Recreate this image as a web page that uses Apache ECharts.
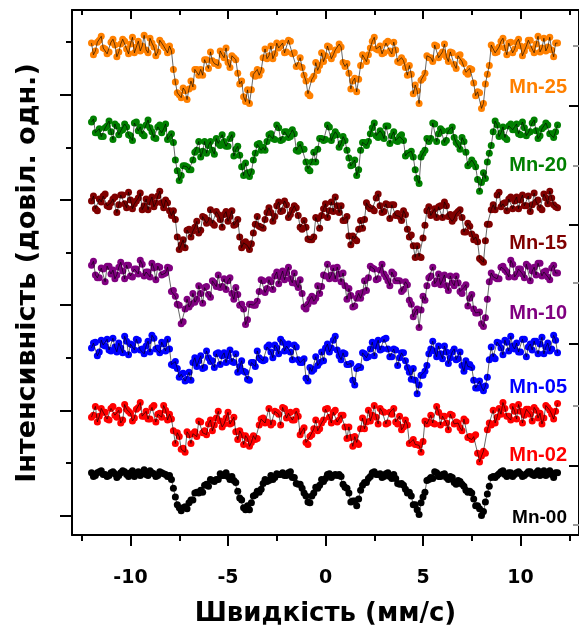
<!DOCTYPE html>
<html><head><meta charset="utf-8">
<script src="https://cdn.jsdelivr.net/npm/echarts@6/dist/echarts.min.js"></script>
<style>html,body{margin:0;padding:0;background:#fff}#c{width:579px;height:632px}</style>
</head><body><div id="c"></div>
<script>
const velocity = [-12,-11.8,-11.6,-11.4,-11.2,-11,-10.8,-10.6,-10.4,-10.2,-10,-9.8,-9.6,-9.4,-9.2,-9,-8.8,-8.6,-8.4,-8.2,-8,-7.8,-7.6,-7.4,-7.2,-7,-6.8,-6.6,-6.4,-6.2,-6,-5.8,-5.6,-5.4,-5.2,-5,-4.8,-4.6,-4.4,-4.2,-4,-3.8,-3.6,-3.4,-3.2,-3,-2.8,-2.6,-2.4,-2.2,-2,-1.8,-1.6,-1.4,-1.2,-1,-0.8,-0.6,-0.4,-0.2,0,0.2,0.4,0.6,0.8,1,1.2,1.4,1.6,1.8,2,2.2,2.4,2.6,2.8,3,3.2,3.4,3.6,3.8,4,4.2,4.4,4.6,4.8,5,5.2,5.4,5.6,5.8,6,6.2,6.4,6.6,6.8,7,7.2,7.4,7.6,7.8,8,8.2,8.4,8.6,8.8,9,9.2,9.4,9.6,9.8,10,10.2,10.4,10.6,10.8,11,11.2,11.4,11.6,11.8];
const velocityHalf = [-11.9,-11.7,-11.5,-11.3,-11.1,-10.9,-10.7,-10.5,-10.3,-10.1,-9.9,-9.7,-9.5,-9.3,-9.1,-8.9,-8.7,-8.5,-8.3,-8.1,-7.9,-7.7,-7.5,-7.3,-7.1,-6.9,-6.7,-6.5,-6.3,-6.1,-5.9,-5.7,-5.5,-5.3,-5.1,-4.9,-4.7,-4.5,-4.3,-4.1,-3.9,-3.7,-3.5,-3.3,-3.1,-2.9,-2.7,-2.5,-2.3,-2.1,-1.9,-1.7,-1.5,-1.3,-1.1,-0.9,-0.7,-0.5,-0.3,-0.1,0.1,0.3,0.5,0.7,0.9,1.1,1.3,1.5,1.7,1.9,2.1,2.3,2.5,2.7,2.9,3.1,3.3,3.5,3.7,3.9,4.1,4.3,4.5,4.7,4.9,5.1,5.3,5.5,5.7,5.9,6.1,6.3,6.5,6.7,6.9,7.1,7.3,7.5,7.7,7.9,8.1,8.3,8.5,8.7,8.9,9.1,9.3,9.5,9.7,9.9,10.1,10.3,10.5,10.7,10.9,11.1,11.3,11.5,11.7,11.9];

const mn25 = [505,497,508,500,494,506,503,496,509,499,504,495,507,502,498,510,501,496,505,500,
502,478,454,449,456,458,460,478,478,488,479,487,485,497,490,485,492,488,463,450,
457,457,471,472,490,489,502,494,500,505,496,507,495,482,480,466,451,471,477,495,
492,501,493,498,501,481,474,466,455,482,491,493,507,499,502,495,507,494,498,485,
487,472,473,462,443,469,492,490,503,490,496,491,496,483,492,486,475,479,464,455,
438,463,482,499,496,507,500,505,495,506,502,497,508,499,504,496,510,501,498,505];
const mn25Half = [493,506,512,499,496,509,491,504,507,494,511,501,497,513,495,505,492,508,502,495,
497,465,452,459,447,466,478,472,472,488,496,484,482,493,500,480,490,474,466,445,
443,473,478,477,499,492,489,505,502,495,508,494,481,490,472,453,468,485,482,486,
502,489,498,504,485,484,458,469,468,493,486,500,511,498,494,505,497,506,486,490,
480,482,453,456,467,474,490,486,502,493,504,486,495,479,493,484,473,478,451,454,
443,473,503,495,501,510,493,506,499,509,492,502,508,495,512,500,497,511,491,505];
const mn20 = [424,413,417,409,420,414,422,411,416,419,410,423,415,412,421,418,408,419,413,422,
409,403,374,369,379,375,385,395,388,404,400,395,407,400,404,399,411,396,390,369,
372,373,392,402,398,404,412,406,418,406,414,409,412,394,396,383,374,393,396,407,
406,419,410,411,402,405,387,380,369,395,403,404,418,410,415,407,420,410,405,409,
405,392,394,375,361,392,407,407,422,412,415,405,415,408,401,408,393,381,382,365,
362,366,392,414,421,413,408,420,416,422,411,418,413,423,415,410,419,421,412,414];
const mn20Half = [427,413,409,418,425,406,420,415,422,411,405,424,419,410,426,414,407,421,417,406,
412,385,364,379,378,375,393,404,394,392,404,391,402,411,399,407,389,399,378,382,
368,385,401,395,395,411,407,421,405,414,408,416,395,401,396,376,383,383,407,405,
421,405,414,398,409,395,379,385,375,403,400,412,423,408,412,420,402,414,404,411,
389,392,388,366,388,395,404,423,404,417,403,415,419,403,396,404,379,385,378,353,
372,383,400,425,409,419,406,422,416,412,424,410,414,426,407,417,423,412,408,421];
const mn15 = [343,335,345,348,338,341,347,339,349,336,344,340,346,334,345,342,337,348,341,344,
333,333,306,298,295,314,312,322,313,326,323,320,332,324,329,322,333,319,306,300,
297,299,319,317,315,331,331,327,342,333,339,329,338,328,314,316,303,306,325,328,
340,333,332,338,338,323,307,307,302,323,324,337,335,346,338,332,339,339,328,327,
333,314,308,285,286,305,333,328,335,337,326,338,329,325,332,326,311,317,303,301,
282,302,319,339,349,337,341,345,335,347,344,338,348,339,342,336,350,340,346,337];
const mn15Half = [348,333,342,350,337,345,331,349,340,352,335,343,351,338,334,347,341,353,336,341,
328,324,293,303,313,306,316,310,327,320,334,318,329,316,332,327,318,324,295,301,
293,310,327,316,324,336,322,338,332,343,326,334,336,316,323,304,303,326,315,335,
326,342,347,331,323,327,298,304,314,315,341,335,333,350,331,340,325,339,330,323,
329,306,297,297,285,318,337,330,326,338,342,327,322,330,334,311,320,309,306,284,
280,319,334,334,352,340,333,347,343,335,349,338,332,351,344,334,346,353,339,336];
const mn10 = [277,267,264,273,276,268,263,275,271,277,266,273,268,278,270,265,274,276,267,269,
274,251,237,217,232,234,248,242,248,254,247,261,255,254,263,261,248,254,236,232,
221,237,236,250,261,253,260,266,258,271,269,263,269,254,248,232,242,240,256,255,
266,263,274,275,260,256,253,234,243,243,261,264,274,262,272,268,261,270,261,261,
252,257,237,229,213,245,256,266,258,268,262,256,266,256,259,248,257,243,232,228,
217,223,260,265,263,275,272,265,278,268,273,264,276,271,267,279,270,265,274,269];
const mn10Half = [281,264,274,260,276,272,267,280,263,277,265,273,282,266,270,279,262,275,268,275,
250,245,236,219,242,237,239,256,238,255,244,259,267,255,252,264,242,247,237,216,
237,236,240,262,249,262,252,270,265,262,275,259,258,262,234,237,245,243,248,267,
278,267,263,268,269,242,246,235,248,249,251,276,273,263,278,265,256,268,261,250,
260,241,224,232,231,241,264,275,261,257,267,251,259,266,250,254,235,247,228,229,
214,242,269,265,263,276,270,282,265,273,268,278,261,275,279,266,271,262,277,269];
const mn05 = [192,198,188,195,201,189,193,197,187,199,196,190,200,191,194,188,202,192,198,189,
191,174,171,165,158,167,177,173,184,172,182,179,186,175,187,184,178,186,173,168,
160,177,173,182,179,193,188,195,186,198,194,188,195,180,177,161,172,170,174,188,
192,188,200,190,180,186,175,159,171,172,186,183,198,194,190,201,191,183,190,182,
187,172,160,159,154,164,174,191,189,194,181,188,182,191,181,174,179,175,159,151,
152,153,180,183,198,192,200,189,194,197,188,201,193,190,199,196,186,197,191,200];
const mn05Half = [197,184,200,194,190,202,188,192,204,185,195,201,190,186,199,205,191,187,196,201,
175,178,162,166,160,159,182,179,171,189,178,172,187,184,177,190,177,167,179,167,
159,177,189,180,180,195,182,192,201,189,196,180,193,177,181,158,168,183,177,179,
196,192,204,184,187,175,176,154,173,187,182,191,184,200,191,202,183,191,174,187,
179,167,171,145,164,168,186,199,183,186,194,176,188,180,188,168,173,172,151,158,
148,162,193,181,197,185,198,204,191,188,201,183,196,199,186,203,193,189,205,187];
const mn02 = [121,132,122,126,119,130,123,128,118,129,125,120,131,122,127,119,133,124,121,128,
124,107,105,88,85,103,104,101,116,107,114,107,120,117,114,126,115,106,107,93,
99,95,98,113,120,116,113,127,124,131,120,126,118,122,107,95,101,109,107,115,
129,121,126,116,123,111,111,91,95,109,109,128,123,121,130,126,115,124,116,122,
111,113,95,93,92,96,114,123,114,126,122,115,124,114,115,107,117,101,101,84,
81,84,115,128,121,124,130,122,132,119,127,123,129,117,128,125,120,131,124,127];
const mn02Half = [123,116,130,126,118,132,121,115,134,127,117,129,136,122,119,131,116,125,133,118,
119,94,101,89,106,94,106,117,105,103,118,113,127,111,120,114,121,98,103,102,
91,102,99,119,115,130,115,126,113,130,125,118,127,103,110,93,103,118,109,118,
130,115,128,118,123,99,100,101,93,120,116,117,133,114,127,114,126,130,114,108,
118,94,98,93,85,117,116,115,132,113,122,108,123,116,110,119,100,98,103,75,
86,108,113,115,130,136,122,118,127,134,115,129,124,131,120,114,133,128,119,135];
const mn00 = [64,61,65,62,60,64,63,61,66,62,64,60,65,63,62,66,63,61,64,62,
61,48,31,25,29,33,36,44,46,51,50,56,57,63,61,60,60,54,38,28,
30,33,41,44,53,55,61,59,62,64,61,65,59,52,48,40,33,43,48,57,
58,63,61,61,60,49,43,35,30,46,54,58,64,62,63,60,64,58,58,52,
51,43,40,31,21,39,56,59,65,60,62,59,60,54,56,52,46,45,37,30,
20,34,50,60,61,65,62,64,60,64,63,61,65,62,64,61,66,63,62,64];
const mn00Half = [60,64,66,62,61,65,59,64,65,60,66,63,61,67,61,64,60,65,63,60,
57,39,28,28,27,36,43,43,44,52,57,55,57,61,64,57,56,45,36,26,
26,40,45,47,57,56,57,63,62,61,64,59,53,52,43,34,40,49,51,55,
62,59,62,62,52,48,34,35,37,51,54,60,65,62,59,63,60,62,53,53,
47,44,31,26,33,44,57,58,64,60,63,57,59,52,55,50,44,43,30,27,
24,42,59,59,63,66,60,64,62,65,60,63,65,61,66,62,61,66,59,64];

const sampleNames = ['Mn-25','Mn-20','Mn-15','Mn-10','Mn-05','Mn-02','Mn-00'];
const sampleValues = [mn25, mn20, mn15, mn10, mn05, mn02, mn00];
const sampleValuesHalf = [mn25Half, mn20Half, mn15Half, mn10Half, mn05Half, mn02Half, mn00Half];
const xMajorTicks = [-10,-5,0,5,10];
const xMinorTicks = [-12.5,-7.5,-2.5,2.5,7.5,12.5];
const yMajorTicks = [20,128,236,344,452];
const yMinorTicks = [74,182,290,398,506];
const yRightMajorTicks = [71,196,319,441];
const yRightMinorTicks = [11,133,259,379,502];
const xTitle = 'Швидкість (мм/с)';
const yTitle = 'Інтенсивність (довіл. одн.)';

const colors = ['#FF8000','#008000','#800000','#800080','#0000FF','#FF0000','#000000'];
const labelY = [87,165,243,313,387,455,518];
const FONT = '"Liberation Sans", Arial, sans-serif';
const WIDE = '"DejaVu Sans", Verdana, sans-serif';

const chart = echarts.init(document.getElementById('c'), null, {renderer:'canvas'});
const series = [];
sampleValues.forEach((vals, k) => {
  const half = sampleValuesHalf[k];
  const data = [];
  velocity.forEach((x, i) => { data.push([x, vals[i]]); data.push([velocityHalf[i], half[i]]); });
  series.push({type:'scatter', name: sampleNames[k], data, symbol:'circle', symbolSize:7,
    itemStyle:{color: colors[k], opacity:1}, z:2, silent:true});
  series.push({type:'line', data, symbol:'none', showSymbol:false,
    lineStyle:{color:'#000', width:0.6}, z:3, silent:true});
});

const axLine = {show:true, onZero:false, lineStyle:{color:'#000', width:2}};
const noLine = {show:false, onZero:false};
const xBase = {type:'value', min:-13, max:13, splitLine:{show:false}};
const yBase = {type:'value', min:0, max:539, splitLine:{show:false}};

chart.setOption({
  animation:false,
  backgroundColor:'#fff',
  grid:{left:72, top:10, width:512, height:539, containLabel:false},
  xAxis:[
    Object.assign({}, xBase, {position:'bottom', axisLine:axLine,
      axisTick:{show:true, inside:false, length:11, customValues:xMajorTicks, lineStyle:{color:'#000', width:2}},
      axisLabel:{show:true, customValues:xMajorTicks, margin:34, color:'#000', fontSize:19, fontWeight:'bold', fontFamily:WIDE},
      name:xTitle, nameLocation:'middle', nameGap:66,
      nameTextStyle:{color:'#000', fontSize:26, fontWeight:'bold', fontFamily:WIDE}}),
    Object.assign({}, xBase, {position:'bottom', axisLine:noLine,
      axisTick:{show:true, inside:false, length:6, customValues:xMinorTicks, lineStyle:{color:'#000', width:2}},
      axisLabel:{show:false}}),
    Object.assign({}, xBase, {position:'top', axisLine:axLine,
      axisTick:{show:true, inside:true, length:9, customValues:xMajorTicks, lineStyle:{color:'#000', width:2}},
      axisLabel:{show:false}}),
    Object.assign({}, xBase, {position:'top', axisLine:noLine,
      axisTick:{show:true, inside:true, length:5, customValues:xMinorTicks, lineStyle:{color:'#000', width:2}},
      axisLabel:{show:false}})
  ],
  yAxis:[
    Object.assign({}, yBase, {position:'left', axisLine:axLine,
      axisTick:{show:true, inside:false, length:12, customValues:yMajorTicks, lineStyle:{color:'#000', width:2}},
      axisLabel:{show:false}}),
    Object.assign({}, yBase, {position:'left', axisLine:noLine,
      axisTick:{show:true, inside:false, length:6, customValues:yMinorTicks, lineStyle:{color:'#000', width:2}},
      axisLabel:{show:false}}),
    Object.assign({}, yBase, {position:'right', axisLine:axLine,
      axisTick:{show:true, inside:true, length:10, customValues:yRightMajorTicks, lineStyle:{color:'#000', width:2}},
      axisLabel:{show:false}}),
    Object.assign({}, yBase, {position:'right', axisLine:noLine,
      axisTick:{show:true, inside:true, length:6, customValues:yRightMinorTicks, lineStyle:{color:'#999', width:2}},
      axisLabel:{show:false}})
  ],
  graphic:[
    {type:'text', x:28, y:273, rotation:Math.PI/2,
      style:{text:yTitle, fill:'#000', font:'bold 27px ' + WIDE, textAlign:'center', textVerticalAlign:'middle'}}
  ].concat(sampleNames.map((n, k) => ({type:'text', x:567, y:labelY[k],
      style:{text:n, fill:colors[k], font:'bold ' + (k === 6 ? 19 : 20) + 'px ' + FONT, textAlign:'right', textVerticalAlign:'middle'}}))),
  series
});
</script>
</body></html>
